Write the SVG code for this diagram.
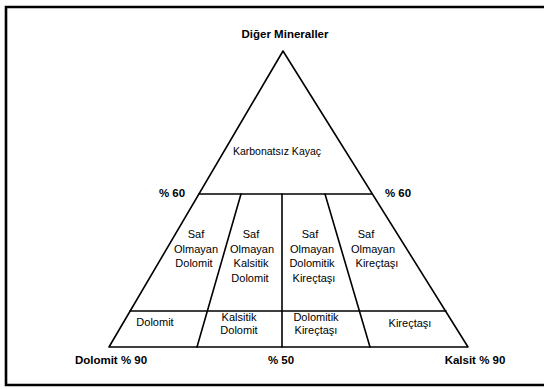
<svg xmlns="http://www.w3.org/2000/svg" width="544" height="389" viewBox="0 0 544 389">
<style>
.ln{stroke:#000;stroke-width:1.6;fill:none;stroke-linecap:round;stroke-linejoin:round}
.fr{stroke:#000;stroke-width:2.6;fill:none}
text{font-family:"Liberation Sans",Arial,sans-serif;fill:#000;text-anchor:middle}
.b{font-weight:bold;font-size:11.5px}
.c{font-size:11px}
</style>
<rect width="544" height="389" fill="#fff"/>
<path class="fr" d="M546,7 H6 V385 H546"/>
<g id="lines">
<path class="ln" d="M283,51 L109,347 L468,347 Z"/>
<line class="ln" x1="199" y1="194" x2="372" y2="194"/>
<line class="ln" x1="130" y1="311" x2="446" y2="311"/>
<line class="ln" x1="241" y1="194" x2="197" y2="347"/>
<line class="ln" x1="282" y1="194" x2="282" y2="347"/>
<line class="ln" x1="325" y1="194" x2="370" y2="347"/>
</g>
<g id="axis-labels">
<text class="b" x="285" y="38">Diğer Mineraller</text>
<text class="b" x="172" y="197">% 60</text>
<text class="b" x="398" y="197">% 60</text>
<text class="b" x="111" y="364">Dolomit % 90</text>
<text class="b" x="281" y="364">% 50</text>
<text class="b" x="475" y="364">Kalsit % 90</text>
</g>
<g id="karbonatsiz"><text class="c" x="277" y="155" style="font-size:10.5px">Karbonatsız Kayaç</text></g>
<g id="sod" class="c"><text x="196" y="238">Saf</text><text x="196" y="253">Olmayan</text><text x="194" y="267">Dolomit</text></g>
<g id="sokd" class="c"><text x="251" y="238">Saf</text><text x="252" y="253">Olmayan</text><text x="251" y="267">Kalsitik</text><text x="250" y="282">Dolomit</text></g>
<g id="sodk" class="c"><text x="310" y="238">Saf</text><text x="312" y="253">Olmayan</text><text x="312" y="267">Dolomitik</text><text x="314" y="282">Kireçtaşı</text></g>
<g id="sok" class="c"><text x="366" y="238">Saf</text><text x="373" y="253">Olmayan</text><text x="377" y="267">Kireçtaşı</text></g>
<g id="dolomit" class="c"><text x="155" y="326">Dolomit</text></g>
<g id="kalsitik-dolomit" class="c"><text x="239" y="321">Kalsitik</text><text x="239" y="334">Dolomit</text></g>
<g id="dolomitik-kirectasi" class="c"><text x="316" y="321">Dolomitik</text><text x="316" y="334">Kireçtaşı</text></g>
<g id="kirectasi" class="c"><text x="410" y="327">Kireçtaşı</text></g>
</svg>
